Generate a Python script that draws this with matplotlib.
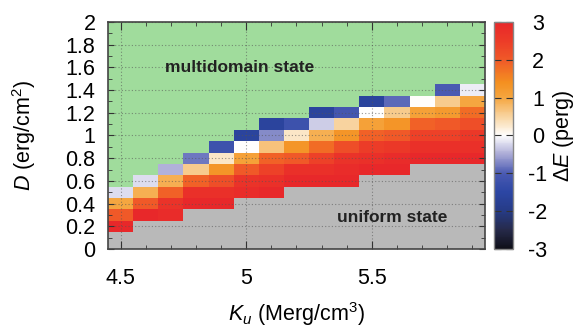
import numpy as np
import matplotlib
matplotlib.use("Agg")
import matplotlib.pyplot as plt
from matplotlib.colors import LinearSegmentedColormap, ListedColormap, Normalize
from matplotlib.ticker import MultipleLocator

plt.rcParams['font.family'] = ['Liberation Sans', 'DejaVu Sans']
plt.rcParams['mathtext.fontset'] = 'custom'
plt.rcParams['mathtext.rm'] = 'Liberation Sans'
plt.rcParams['mathtext.it'] = 'Liberation Sans:italic'
plt.rcParams['axes.unicode_minus'] = False

# anisotropy K_u (Merg/cm^3), one column each
k_u = [4.5, 4.6, 4.7, 4.8, 4.9, 5.0, 5.1, 5.2, 5.3, 5.4, 5.5, 5.6, 5.7, 5.8, 5.9]
# DMI D (erg/cm^2), one row each
d_vals = [0.0, 0.1, 0.2, 0.3, 0.4, 0.5, 0.6, 0.7, 0.8, 0.9, 1.0,
          1.1, 1.2, 1.3, 1.4, 1.5, 1.6, 1.7, 1.8, 1.9, 2.0]

# highest D that is still the uniform state (gray), per column
uniform_top = [0.1, 0.2, 0.2, 0.3, 0.3, 0.4, 0.4, 0.5, 0.5, 0.5, 0.6, 0.6, 0.7, 0.7, 0.7]

# Delta E (perg) for the rows just above the uniform region, bottom to top;
# everything above is multidomain (green)
dE = [
    [3.0, 2.0, 1.0, -0.2],
    [3.0, 2.0, 0.9, -0.2],
    [2.9, 2.7, 1.9, 0.9, -0.45],
    [3.0, 2.8, 1.9, 0.6, -0.8],
    [3.0, 2.8, 2.2, 1.3, 0.3, -1.2],
    [2.9, 2.7, 2.0, 1.1, 0.0, -1.6],
    [3.0, 2.8, 2.4, 1.9, 0.7, -0.7, -1.6],
    [3.0, 2.8, 2.0, 1.3, 0.3, -1.2],
    [3.0, 2.8, 2.4, 1.8, 0.9, -0.3, -1.6],
    [3.0, 2.9, 2.7, 2.2, 1.3, 0.5, -1.1],
    [3.0, 2.8, 2.5, 1.9, 1.1, 0.0, -1.6],
    [3.0, 2.9, 2.6, 2.0, 1.3, 0.6, -0.9],
    [3.0, 2.8, 2.4, 1.9, 1.1, 0.0],
    [3.0, 2.8, 2.4, 2.0, 1.2, 0.6, -1.0],
    [3.0, 2.8, 2.6, 2.2, 1.8, 1.0, -0.1],
]

# build grids
nrow, ncol = len(d_vals), len(k_u)
E = np.full((nrow, ncol), np.nan)
state = np.zeros((nrow, ncol))
for j in range(ncol):
    i0 = int(round(uniform_top[j] * 10)) + 1
    for i in range(nrow):
        state[i, j] = 0 if i < i0 else 1
    for k, v in enumerate(dE[j]):
        E[i0 + k, j] = v
state = np.ma.masked_where(~np.isnan(E), state)
E = np.ma.masked_invalid(E)

xe = np.append(np.array(k_u) - 0.05, k_u[-1] + 0.05)
ye = np.append(np.array(d_vals) - 0.05, d_vals[-1] + 0.05)

cmap = LinearSegmentedColormap.from_list('dE', [
    (0.0, '#0f0f18'), (0.5 / 6, '#262a4a'), (1 / 6, '#263b86'),
    (1.5 / 6, '#2c46a4'), (2 / 6, '#4a5ab2'), (2.5 / 6, '#aaaad6'),
    (0.5, '#ffffff'), (3.5 / 6, '#f8d4a0'), (4 / 6, '#f5a640'),
    (4.4 / 6, '#f49020'), (5 / 6, '#f05a28'), (5.5 / 6, '#ec3c28'),
    (1.0, '#e8282a')])
norm = Normalize(-3, 3)

fig = plt.figure(figsize=(5.76, 3.29), dpi=100)
ax = fig.add_axes([0.1875, 0.2432, 0.6545, 0.6899])
cax = fig.add_axes([0.8576, 0.2432, 0.033, 0.6899])

ax.pcolormesh(xe, ye, state, cmap=ListedColormap(['#b9b9b9', '#a0dc9c']),
              vmin=0, vmax=1)
mesh = ax.pcolormesh(xe, ye, E, cmap=cmap, norm=norm)

ax.set_xlim(4.45, 5.95)
ax.set_ylim(0, 2)
ax.xaxis.set_minor_locator(MultipleLocator(0.1))
ax.yaxis.set_minor_locator(MultipleLocator(0.1))
ax.set_yticks([0, 0.2, 0.4, 0.6, 0.8, 1, 1.2, 1.4, 1.6, 1.8, 2])
ax.set_yticklabels(['0', '0.2', '0.4', '0.6', '0.8', '1', '1.2', '1.4', '1.6', '1.8', '2'])
ax.set_xticks([4.5, 5, 5.5])
ax.set_xticklabels(['4.5', '5', '5.5'])
ax.tick_params(which='both', direction='in', top=True, right=True,
               color='#333333', labelsize=15.5)
ax.tick_params(axis='x', which='major', length=6, pad=14)
ax.tick_params(axis='y', which='major', length=4, pad=9)
ax.tick_params(which='minor', length=3)
ax.grid(True, which='major', color='#555555', linestyle=(0, (1, 2)),
        linewidth=0.8, alpha=0.6)
for s in ax.spines.values():
    s.set_color('#444444')
    s.set_linewidth(1.2)

ax.set_ylabel(r'$D$ (erg/cm$^2$)', fontsize=15.5)
ax.yaxis.set_label_coords(-0.185, 0.5)
ax.set_xlabel(r'$K_u$ (Merg/cm$^3$)', fontsize=15.5)
ax.xaxis.set_label_coords(0.5, -0.225)

ax.text(4.975, 1.6, 'multidomain state', fontsize=12.5, fontweight='bold',
        color='#222222', ha='center', va='center')
ax.text(5.58, 0.28, 'uniform state', fontsize=12.5, fontweight='bold',
        color='#222222', ha='center', va='center')

cb = fig.colorbar(mesh, cax=cax)
cb.set_ticks([-3, -2, -1, 0, 1, 2, 3])
cb.outline.set_edgecolor('#888888')
cb.outline.set_linewidth(1)
cax.tick_params(direction='in', left=True, right=True, length=5,
                color='#333333', labelsize=15.5, pad=18)
for t in cax.get_yticklabels():
    t.set_ha('center')
cb.set_label(r'$\Delta E$ (perg)', fontsize=15.5)
cax.yaxis.set_label_coords(3.0, 0.5)

fig.savefig('out.png', dpi=100)
